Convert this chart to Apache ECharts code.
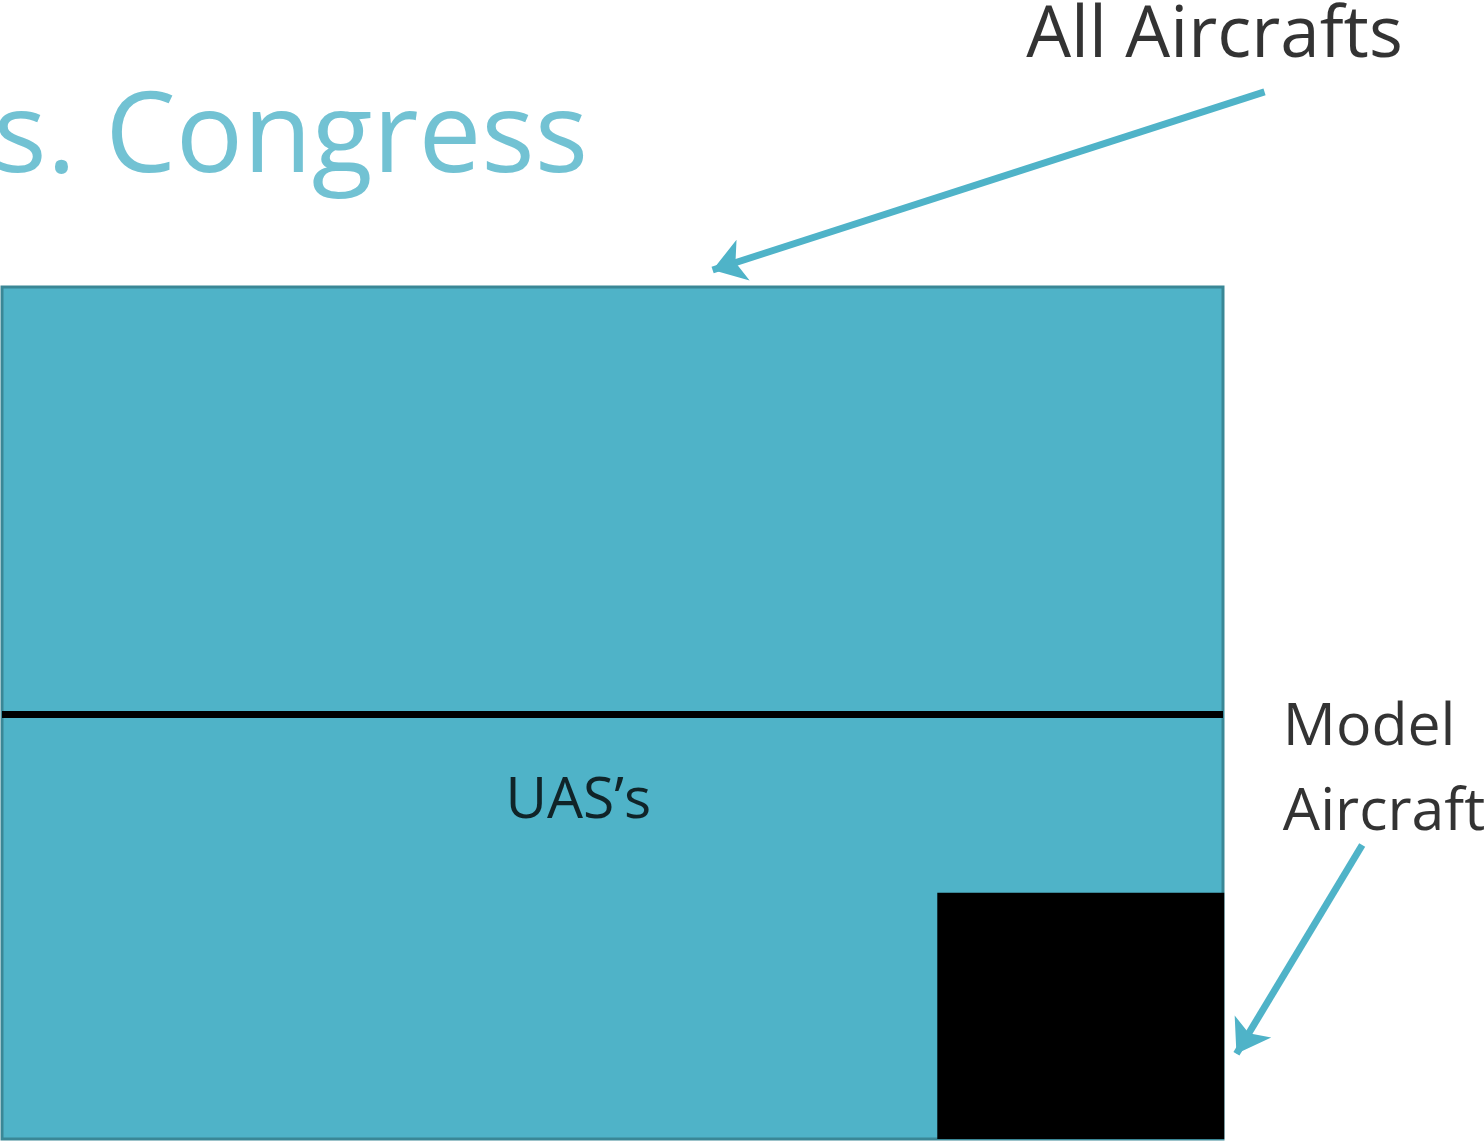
<!DOCTYPE html>
<html>
<head>
<meta charset="utf-8">
<script src="https://cdn.jsdelivr.net/npm/echarts@6/dist/echarts.min.js"></script>
<style>
  html, body { margin: 0; padding: 0; background: #ffffff; }
  #chart { width: 1484px; height: 1142px; }
</style>
</head>
<body>
<div id="chart"></div>
<script>
// Diagram space: the "All Aircrafts" box spans 0..100 on both axes (y grows downward).
const titleText = 'vs. Congress';
const regionNames = ['All Aircrafts', 'UAS\u2019s', 'Model\nAircraft'];
const allAircraftBox = [0, 0, 100, 100];
const uasDivider = [[0, 50.2], [100, 50.2]];
const modelAircraftBox = [76.6, 71.1, 100.1, 100];
const titleAnchor = [48.0, -17.3];
const labelAnchors = [[99.3, -29.4], [47.2, 60.4], [104.9, 56.8]];
const arrowAllAircraft = [[103.4, -22.9], [58.2, -2.0]];
const arrowModelAircraft = [[111.4, 65.5], [101.1, 90.0]];

const teal = '#4fb3c8';
const tealDark = '#3a8796';

function rectItem(params, api) {
  const p0 = api.coord([api.value(0), api.value(1)]);
  const p1 = api.coord([api.value(2), api.value(3)]);
  return {
    type: 'rect',
    shape: {
      x: Math.min(p0[0], p1[0]), y: Math.min(p0[1], p1[1]),
      width: Math.abs(p1[0] - p0[0]), height: Math.abs(p1[1] - p0[1])
    },
    style: api.style()
  };
}

const chart = echarts.init(document.getElementById('chart'));
chart.setOption({
  animation: false,
  backgroundColor: '#ffffff',
  grid: { left: 2, right: 261, top: 287, bottom: 3, containLabel: false },
  xAxis: { type: 'value', min: 0, max: 100, show: false },
  yAxis: { type: 'value', min: 0, max: 100, inverse: true, show: false },
  series: [
    {
      type: 'custom', clip: false, z: 1,
      renderItem: rectItem,
      encode: { x: [0, 2], y: [1, 3] },
      itemStyle: { color: teal, borderColor: tealDark, borderWidth: 3 },
      data: [allAircraftBox]
    },
    {
      type: 'lines', coordinateSystem: 'cartesian2d', clip: false, z: 2,
      symbol: ['none', 'none'],
      lineStyle: { color: '#000000', width: 7, opacity: 1 },
      data: [{ coords: uasDivider }]
    },
    {
      type: 'custom', clip: false, z: 3,
      renderItem: rectItem,
      encode: { x: [0, 2], y: [1, 3] },
      itemStyle: { color: '#000000' },
      data: [modelAircraftBox]
    },
    {
      type: 'lines', coordinateSystem: 'cartesian2d', clip: false, z: 4,
      symbol: ['none', 'arrow'], symbolSize: 32,
      lineStyle: { color: teal, width: 7, opacity: 1, curveness: 0 },
      data: [{ coords: arrowAllAircraft }, { coords: arrowModelAircraft }]
    },
    {
      type: 'scatter', clip: false, z: 5, symbolSize: 0, silent: true,
      data: [{
        value: titleAnchor,
        label: {
          show: true, position: [0, 0], align: 'right', verticalAlign: 'middle',
          formatter: titleText, color: teal, fontFamily: 'Open Sans', fontWeight: 'normal', fontSize: 112
        }
      }, {
        value: labelAnchors[0],
        label: {
          show: true, position: [0, 0], align: 'center', verticalAlign: 'middle',
          formatter: regionNames[0], color: '#000000', fontFamily: 'Open Sans', fontSize: 71
        }
      }, {
        value: labelAnchors[1],
        label: {
          show: true, position: [0, 0], align: 'center', verticalAlign: 'middle',
          formatter: regionNames[1], color: '#000000', fontFamily: 'Open Sans', fontSize: 57
        }
      }, {
        value: labelAnchors[2],
        label: {
          show: true, position: [0, 0], align: 'left', verticalAlign: 'middle',
          formatter: regionNames[2], color: '#000000', fontFamily: 'Open Sans', fontSize: 59, lineHeight: 85
        }
      }]
    }
  ]
});
</script>
</body>
</html>
